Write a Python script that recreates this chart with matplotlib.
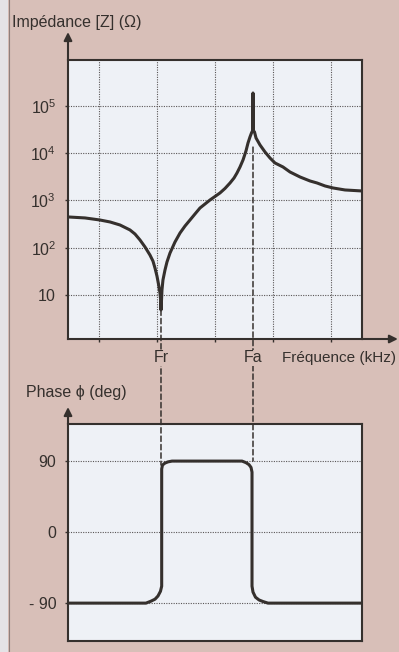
import numpy as np
import matplotlib
matplotlib.use('Agg')
import matplotlib.pyplot as plt
from matplotlib.patches import ConnectionPatch, Rectangle
from matplotlib.lines import Line2D

plt.rcParams['font.family'] = ['Liberation Sans', 'DejaVu Sans']
plt.rcParams['font.size'] = 11.5

# impedance curve, x in grid units (one unit = one vertical grid step)
freq_mag = [-0.534, -0.241, 0.017, 0.190, 0.362, 0.534, 0.621, 0.707, 0.793, 0.879,
            0.931, 0.966, 1.000, 1.026, 1.052, 1.062, 1.069, 1.078, 1.086, 1.103,
            1.138, 1.172, 1.224, 1.310, 1.397, 1.483, 1.569, 1.655, 1.741, 1.828,
            1.914, 2.000, 2.086, 2.172, 2.259, 2.328, 2.379, 2.431, 2.483, 2.534,
            2.569, 2.603, 2.629, 2.648, 2.655, 2.662, 2.681, 2.707, 2.776, 2.862,
            2.948, 3.034, 3.172, 3.293, 3.466, 3.638, 3.759, 3.897, 4.034, 4.241,
            4.534]
mag = [448, 427, 386, 351, 303, 238, 195, 146, 104, 70,
       52, 37, 25, 17, 11, 8, 4.8, 7.8, 12.8, 20.8,
       33.8, 49.9, 77, 132, 205, 288, 386, 518, 693, 843,
       1025, 1216, 1443, 1795, 2346, 2990, 3818, 5117, 7199, 11170,
       16480, 22080, 26850, 30000, 188400, 30000, 28180, 21040, 14950, 10620,
       7930, 6220, 5117, 4008, 3142, 2586, 2346, 2028, 1840, 1669,
       1589]

# phase curve
freq_phase = [-0.534, 0.81, 0.897, 0.966, 1.017, 1.060, 1.081, 1.081, 1.095, 1.138,
              1.190, 1.259, 2.466, 2.534, 2.586, 2.621, 2.638, 2.638, 2.655, 2.698,
              2.759, 2.828, 2.914, 4.534]
phase = [-90, -90, -87.5, -85, -81, -75, -68.5, 80, 85, 87.5,
         89, 90, 90, 88, 85.5, 82, 76, -68.5, -76, -82.5,
         -86, -88, -90, -90]

grid_x = [0, 1, 2, 3, 4]
mag_ticks = [10, 1e2, 1e3, 1e4, 1e5]
mag_labels = ['$\\mathregular{10}$', '$\\mathregular{10^2}$', '$\\mathregular{10^3}$',
              '$\\mathregular{10^4}$', '$\\mathregular{10^5}$']
phase_ticks = [-90, 0, 90]
phase_labels = ['- 90', '0', '90']
fr = 1.069
fa = 2.655

bg = '#d8bfb8'
face = '#eef1f6'
ink = '#35302d'
gridc = '#5a5656'

fig = plt.figure(figsize=(3.99, 6.52), dpi=100)
fig.patch.set_facecolor(bg)
fig.add_artist(Rectangle((0, 0), 8 / 399, 1, transform=fig.transFigure,
                         facecolor='#e4e3e6', edgecolor='none'))
fig.add_artist(Line2D([8.5 / 399, 8.5 / 399], [0, 1], transform=fig.transFigure,
                      color='#8f7f7c', lw=0.8))

ax1 = fig.add_axes([68 / 399, 1 - 339 / 652, 294 / 399, 279 / 652])
ax2 = fig.add_axes([68 / 399, 1 - 641 / 652, 294 / 399, 217 / 652])

for ax in (ax1, ax2):
    ax.set_facecolor(face)
    for sp in ax.spines.values():
        sp.set_color(ink)
        sp.set_linewidth(1.5)
    ax.tick_params(colors=ink, length=2.5, width=1, pad=6, labelsize=11.5)
    ax.set_xlim(-0.534, 4.534)

# top: impedance
ax1.plot(freq_mag, mag, color=ink, lw=2.2, solid_joinstyle='round', zorder=3)
ax1.set_yscale('log')
ax1.set_ylim(1.17, 9.4e5)
ax1.set_yticks(mag_ticks, mag_labels)
ax1.minorticks_off()
ax1.set_xticks(grid_x, [])
ax1.grid(True, color=gridc, lw=0.8, linestyle=(0, (1, 1.2)))
ax1.annotate('', xy=(0, 1.1), xytext=(0, 1), xycoords='axes fraction',
             arrowprops=dict(arrowstyle='-|>', lw=1.5, color=ink, mutation_scale=12, shrinkA=0, shrinkB=0))
ax1.annotate('', xy=(1.122, 0), xytext=(1, 0), xycoords='axes fraction',
             arrowprops=dict(arrowstyle='-|>', lw=1.5, color=ink, mutation_scale=12, shrinkA=0, shrinkB=0))
fig.text(12 / 399, 1 - 22 / 652, 'Impédance [Z] (Ω)', ha='left', va='center', color=ink)
fig.text(282 / 399, 1 - 358 / 652, 'Fréquence (kHz)', ha='left', va='center', color=ink, fontsize=11)

# bottom: phase
ax2.plot(freq_phase, phase, color=ink, lw=2.2, solid_joinstyle='round', zorder=3)
ax2.set_ylim(-138, 137)
ax2.set_yticks(phase_ticks, phase_labels)
ax2.set_xticks([])
ax2.grid(True, axis='y', color=gridc, lw=0.8, linestyle=(0, (1, 1.2)))
ax2.annotate('', xy=(0, 1.078), xytext=(0, 1), xycoords='axes fraction',
             arrowprops=dict(arrowstyle='-|>', lw=1.5, color=ink, mutation_scale=12, shrinkA=0, shrinkB=0))
fig.text(26 / 399, 1 - 393 / 652, 'Phase ϕ (deg)', ha='left', va='center', color=ink)

# dashed links between the two plots
for xf, ytop, ybot in [(fr, 4.8, 85), (fa, 13500, 90)]:
    con = ConnectionPatch(xyA=(xf, ytop), coordsA=ax1.transData,
                          xyB=(xf, ybot), coordsB=ax2.transData,
                          color=ink, lw=1.1, linestyle=(0, (3.5, 2)), zorder=4)
    fig.add_artist(con)

# resonance labels sit over the dashed lines
for xf, name in [(fr, 'Fr'), (fa, 'Fa')]:
    t = ax1.text(xf, -0.068, name, transform=ax1.get_xaxis_transform(), ha='center', va='center',
                 color=ink, zorder=5, bbox=dict(facecolor=bg, edgecolor='none', pad=0.5))
    t.remove()
    t.set_transform(ax1.get_xaxis_transform())
    fig.add_artist(t)

fig.savefig('out.png', dpi=100, facecolor=fig.get_facecolor())
